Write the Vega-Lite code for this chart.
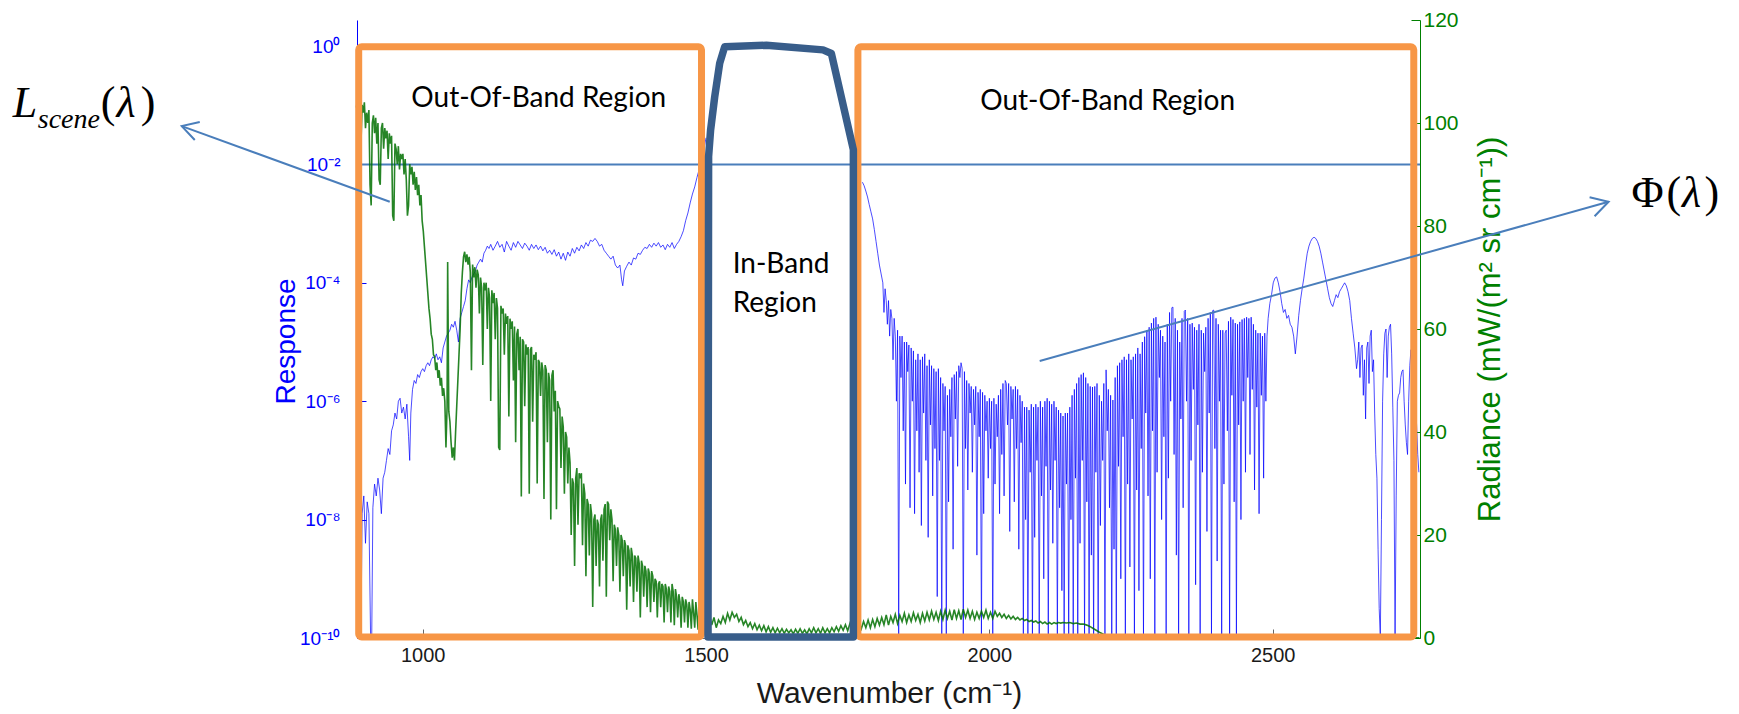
{
"$schema": "https://vega.github.io/schema/vega-lite/v6.json",
"width": 1063, "height": 618,
"autosize": {"type": "none"},
"padding": {"left": 357, "top": 20, "right": 319, "bottom": 76},
"background": "white",
"config": {"view": {"stroke": null}, "axis": {"labelFont": "Liberation Sans", "titleFont": "Liberation Sans", "grid": false}},
"datasets": {
"resp": [
{"wn":883,"logR":-8.3,"seg":"a"},{"wn":885,"logR":-7.8,"seg":"a"},{"wn":887,"logR":-8.2,"seg":"a"},{"wn":889,"logR":-7.7,"seg":"a"},{"wn":891,"logR":-10,"seg":"a"},{"wn":893,"logR":-7.9,"seg":"a"},{"wn":896,"logR":-7.6,"seg":"a"},{"wn":899,"logR":-8.4,"seg":"a"},{"wn":902,"logR":-7.7,"seg":"a"},{"wn":905,"logR":-7.9,"seg":"a"},{"wn":908,"logR":-10,"seg":"a"},{"wn":910,"logR":-10,"seg":"a"},{"wn":912,"logR":-7.8,"seg":"a"},{"wn":915,"logR":-7.4,"seg":"a"},{"wn":918,"logR":-7.6,"seg":"a"},{"wn":921,"logR":-7.3,"seg":"a"},{"wn":924,"logR":-7.5,"seg":"a"},{"wn":927,"logR":-7.9,"seg":"a"},{"wn":930,"logR":-7.3,"seg":"a"},{"wn":933,"logR":-7.2,"seg":"a"},{"wn":936,"logR":-7.0,"seg":"a"},{"wn":939,"logR":-6.8,"seg":"a"},{"wn":942,"logR":-6.9,"seg":"a"},{"wn":945,"logR":-6.5,"seg":"a"},{"wn":948,"logR":-6.4,"seg":"a"},{"wn":951,"logR":-6.2,"seg":"a"},{"wn":954,"logR":-6.3,"seg":"a"},{"wn":957,"logR":-6.0,"seg":"a"},{"wn":960,"logR":-5.95,"seg":"a"},{"wn":963,"logR":-6.2,"seg":"a"},{"wn":966,"logR":-6.1,"seg":"a"},{"wn":969,"logR":-6.3,"seg":"a"},{"wn":972,"logR":-6.05,"seg":"a"},{"wn":975,"logR":-6.6,"seg":"a"},{"wn":977,"logR":-7.0,"seg":"a"},{"wn":979,"logR":-6.2,"seg":"a"},{"wn":982,"logR":-5.8,"seg":"a"},{"wn":985,"logR":-5.65,"seg":"a"},{"wn":988,"logR":-5.7,"seg":"a"},{"wn":991,"logR":-5.55,"seg":"a"},{"wn":994,"logR":-5.6,"seg":"a"},{"wn":997,"logR":-5.5,"seg":"a"},{"wn":1000,"logR":-5.45,"seg":"a"},{"wn":1003,"logR":-5.5,"seg":"a"},{"wn":1006,"logR":-5.4,"seg":"a"},{"wn":1009,"logR":-5.35,"seg":"a"},{"wn":1012,"logR":-5.4,"seg":"a"},{"wn":1015,"logR":-5.3,"seg":"a"},{"wn":1018,"logR":-5.25,"seg":"a"},{"wn":1021,"logR":-5.28,"seg":"a"},{"wn":1024,"logR":-5.2,"seg":"a"},{"wn":1027,"logR":-5.3,"seg":"a"},{"wn":1030,"logR":-5.25,"seg":"a"},{"wn":1033,"logR":-5.35,"seg":"a"},{"wn":1036,"logR":-5.1,"seg":"a"},{"wn":1039,"logR":-5.0,"seg":"a"},{"wn":1042,"logR":-4.9,"seg":"a"},{"wn":1045,"logR":-4.85,"seg":"a"},{"wn":1048,"logR":-4.8,"seg":"a"},{"wn":1051,"logR":-4.7,"seg":"a"},{"wn":1054,"logR":-4.75,"seg":"a"},{"wn":1057,"logR":-4.65,"seg":"a"},{"wn":1060,"logR":-4.8,"seg":"a"},{"wn":1063,"logR":-5.0,"seg":"a"},{"wn":1066,"logR":-4.6,"seg":"a"},{"wn":1069,"logR":-4.5,"seg":"a"},{"wn":1072,"logR":-4.4,"seg":"a"},{"wn":1075,"logR":-4.3,"seg":"a"},{"wn":1078,"logR":-4.1,"seg":"a"},{"wn":1081,"logR":-3.95,"seg":"a"},{"wn":1084,"logR":-4.0,"seg":"a"},{"wn":1087,"logR":-3.9,"seg":"a"},{"wn":1090,"logR":-3.85,"seg":"a"},{"wn":1093,"logR":-3.8,"seg":"a"},{"wn":1096,"logR":-3.7,"seg":"a"},{"wn":1099,"logR":-3.65,"seg":"a"},{"wn":1102,"logR":-3.6,"seg":"a"},{"wn":1105,"logR":-3.65,"seg":"a"},{"wn":1108,"logR":-3.5,"seg":"a"},{"wn":1111,"logR":-3.45,"seg":"a"},{"wn":1114,"logR":-3.38,"seg":"a"},{"wn":1117,"logR":-3.42,"seg":"a"},{"wn":1120,"logR":-3.35,"seg":"a"},{"wn":1124,"logR":-3.45,"seg":"a"},{"wn":1128,"logR":-3.38,"seg":"a"},{"wn":1132,"logR":-3.3,"seg":"a"},{"wn":1136,"logR":-3.4,"seg":"a"},{"wn":1140,"logR":-3.35,"seg":"a"},{"wn":1144,"logR":-3.48,"seg":"a"},{"wn":1148,"logR":-3.3,"seg":"a"},{"wn":1152,"logR":-3.38,"seg":"a"},{"wn":1156,"logR":-3.45,"seg":"a"},{"wn":1160,"logR":-3.32,"seg":"a"},{"wn":1164,"logR":-3.4,"seg":"a"},{"wn":1168,"logR":-3.3,"seg":"a"},{"wn":1172,"logR":-3.36,"seg":"a"},{"wn":1176,"logR":-3.42,"seg":"a"},{"wn":1180,"logR":-3.33,"seg":"a"},{"wn":1184,"logR":-3.38,"seg":"a"},{"wn":1188,"logR":-3.45,"seg":"a"},{"wn":1192,"logR":-3.35,"seg":"a"},{"wn":1196,"logR":-3.42,"seg":"a"},{"wn":1200,"logR":-3.36,"seg":"a"},{"wn":1204,"logR":-3.44,"seg":"a"},{"wn":1208,"logR":-3.38,"seg":"a"},{"wn":1212,"logR":-3.46,"seg":"a"},{"wn":1216,"logR":-3.4,"seg":"a"},{"wn":1220,"logR":-3.5,"seg":"a"},{"wn":1224,"logR":-3.45,"seg":"a"},{"wn":1228,"logR":-3.52,"seg":"a"},{"wn":1232,"logR":-3.44,"seg":"a"},{"wn":1236,"logR":-3.55,"seg":"a"},{"wn":1240,"logR":-3.48,"seg":"a"},{"wn":1244,"logR":-3.6,"seg":"a"},{"wn":1248,"logR":-3.5,"seg":"a"},{"wn":1252,"logR":-3.62,"seg":"a"},{"wn":1256,"logR":-3.48,"seg":"a"},{"wn":1260,"logR":-3.55,"seg":"a"},{"wn":1264,"logR":-3.42,"seg":"a"},{"wn":1268,"logR":-3.5,"seg":"a"},{"wn":1272,"logR":-3.4,"seg":"a"},{"wn":1276,"logR":-3.46,"seg":"a"},{"wn":1280,"logR":-3.36,"seg":"a"},{"wn":1284,"logR":-3.42,"seg":"a"},{"wn":1288,"logR":-3.32,"seg":"a"},{"wn":1292,"logR":-3.38,"seg":"a"},{"wn":1296,"logR":-3.28,"seg":"a"},{"wn":1300,"logR":-3.3,"seg":"a"},{"wn":1304,"logR":-3.25,"seg":"a"},{"wn":1308,"logR":-3.3,"seg":"a"},{"wn":1312,"logR":-3.38,"seg":"a"},{"wn":1316,"logR":-3.35,"seg":"a"},{"wn":1320,"logR":-3.45,"seg":"a"},{"wn":1324,"logR":-3.5,"seg":"a"},{"wn":1328,"logR":-3.55,"seg":"a"},{"wn":1332,"logR":-3.6,"seg":"a"},{"wn":1336,"logR":-3.55,"seg":"a"},{"wn":1340,"logR":-3.7,"seg":"a"},{"wn":1344,"logR":-3.75,"seg":"a"},{"wn":1348,"logR":-3.7,"seg":"a"},{"wn":1351,"logR":-3.95,"seg":"a"},{"wn":1353,"logR":-4.05,"seg":"a"},{"wn":1356,"logR":-3.8,"seg":"a"},{"wn":1360,"logR":-3.72,"seg":"a"},{"wn":1364,"logR":-3.65,"seg":"a"},{"wn":1368,"logR":-3.7,"seg":"a"},{"wn":1372,"logR":-3.58,"seg":"a"},{"wn":1376,"logR":-3.6,"seg":"a"},{"wn":1380,"logR":-3.5,"seg":"a"},{"wn":1384,"logR":-3.52,"seg":"a"},{"wn":1388,"logR":-3.45,"seg":"a"},{"wn":1392,"logR":-3.4,"seg":"a"},{"wn":1396,"logR":-3.42,"seg":"a"},{"wn":1400,"logR":-3.35,"seg":"a"},{"wn":1404,"logR":-3.4,"seg":"a"},{"wn":1408,"logR":-3.33,"seg":"a"},{"wn":1412,"logR":-3.38,"seg":"a"},{"wn":1416,"logR":-3.32,"seg":"a"},{"wn":1420,"logR":-3.4,"seg":"a"},{"wn":1424,"logR":-3.36,"seg":"a"},{"wn":1428,"logR":-3.44,"seg":"a"},{"wn":1432,"logR":-3.35,"seg":"a"},{"wn":1436,"logR":-3.4,"seg":"a"},{"wn":1440,"logR":-3.32,"seg":"a"},{"wn":1444,"logR":-3.42,"seg":"a"},{"wn":1448,"logR":-3.35,"seg":"a"},{"wn":1452,"logR":-3.3,"seg":"a"},{"wn":1456,"logR":-3.22,"seg":"a"},{"wn":1460,"logR":-3.12,"seg":"a"},{"wn":1464,"logR":-2.95,"seg":"a"},{"wn":1468,"logR":-2.82,"seg":"a"},{"wn":1472,"logR":-2.65,"seg":"a"},{"wn":1476,"logR":-2.5,"seg":"a"},{"wn":1480,"logR":-2.38,"seg":"a"},{"wn":1484,"logR":-2.22,"seg":"a"},{"wn":1488,"logR":-2.08,"seg":"a"},{"wn":1492,"logR":-1.92,"seg":"a"},{"wn":1496,"logR":-1.75,"seg":"a"},{"wn":1500,"logR":-1.55,"seg":"a"},
{"wn":1776,"logR":-2.3,"seg":"b"},{"wn":1779,"logR":-2.36,"seg":"b"},{"wn":1782,"logR":-2.45,"seg":"b"},{"wn":1785,"logR":-2.55,"seg":"b"},{"wn":1788,"logR":-2.68,"seg":"b"},{"wn":1791,"logR":-2.8,"seg":"b"},{"wn":1794,"logR":-2.92,"seg":"b"},{"wn":1797,"logR":-3.1,"seg":"b"},{"wn":1800,"logR":-3.3,"seg":"b"},{"wn":1803,"logR":-3.5,"seg":"b"},{"wn":1806,"logR":-3.7,"seg":"b"},{"wn":1809,"logR":-3.85,"seg":"b"},{"wn":1812,"logR":-4.0,"seg":"b"},{"wn":1814,"logR":-4.5,"seg":"b"},{"wn":1816,"logR":-4.1,"seg":"b"},{"wn":1818,"logR":-4.3,"seg":"b"},{"wn":1820,"logR":-4.7,"seg":"b"},{"wn":1822,"logR":-4.3,"seg":"b"},{"wn":1824,"logR":-4.9,"seg":"b"},{"wn":1826,"logR":-4.45,"seg":"b"},{"wn":1828,"logR":-4.6,"seg":"b"},{"wn":1830,"logR":-5.3,"seg":"b"},{"wn":1832,"logR":-4.6,"seg":"b"},{"wn":1834,"logR":-4.9,"seg":"b"},{"wn":1836,"logR":-6.0,"seg":"b"},{"wn":1838,"logR":-4.8,"seg":"b"},{"wn":1840,"logR":-10,"seg":"b"},{"wn":1842,"logR":-4.9,"seg":"b"},{"wn":1844,"logR":-5.6,"seg":"b"},{"wn":1846,"logR":-4.9,"seg":"b"},{"wn":1848,"logR":-6.5,"seg":"b"},{"wn":1850,"logR":-5.0,"seg":"b"},{"wn":1852,"logR":-7.4,"seg":"b"},{"wn":1854,"logR":-5.0,"seg":"b"},{"wn":1856,"logR":-5.5,"seg":"b"},{"wn":1858,"logR":-5.05,"seg":"b"},{"wn":1860,"logR":-7.8,"seg":"b"},{"wn":1862,"logR":-5.1,"seg":"b"},{"wn":1864,"logR":-6.0,"seg":"b"},{"wn":1866,"logR":-5.15,"seg":"b"},{"wn":1868,"logR":-7.9,"seg":"b"},{"wn":1870,"logR":-5.3,"seg":"b"},{"wn":1872,"logR":-6.5,"seg":"b"},{"wn":1874,"logR":-5.2,"seg":"b"},{"wn":1876,"logR":-7.2,"seg":"b"},{"wn":1878,"logR":-5.3,"seg":"b"},{"wn":1880,"logR":-8.1,"seg":"b"},{"wn":1882,"logR":-5.25,"seg":"b"},{"wn":1884,"logR":-6.2,"seg":"b"},{"wn":1886,"logR":-5.2,"seg":"b"},{"wn":1888,"logR":-7.0,"seg":"b"},{"wn":1890,"logR":-5.4,"seg":"b"},{"wn":1892,"logR":-8.3,"seg":"b"},{"wn":1894,"logR":-5.3,"seg":"b"},{"wn":1896,"logR":-6.4,"seg":"b"},{"wn":1898,"logR":-5.4,"seg":"b"},{"wn":1900,"logR":-7.6,"seg":"b"},{"wn":1902,"logR":-5.45,"seg":"b"},{"wn":1904,"logR":-6.8,"seg":"b"},{"wn":1906,"logR":-5.5,"seg":"b"},{"wn":1908,"logR":-9.3,"seg":"b"},{"wn":1910,"logR":-5.45,"seg":"b"},{"wn":1912,"logR":-7.0,"seg":"b"},{"wn":1914,"logR":-5.6,"seg":"b"},{"wn":1916,"logR":-10,"seg":"b"},{"wn":1918,"logR":-5.7,"seg":"b"},{"wn":1920,"logR":-6.5,"seg":"b"},{"wn":1922,"logR":-5.75,"seg":"b"},{"wn":1924,"logR":-10,"seg":"b"},{"wn":1926,"logR":-5.9,"seg":"b"},{"wn":1928,"logR":-7.7,"seg":"b"},{"wn":1930,"logR":-5.8,"seg":"b"},{"wn":1932,"logR":-6.6,"seg":"b"},{"wn":1934,"logR":-5.6,"seg":"b"},{"wn":1936,"logR":-8.5,"seg":"b"},{"wn":1938,"logR":-5.55,"seg":"b"},{"wn":1940,"logR":-6.3,"seg":"b"},{"wn":1942,"logR":-5.5,"seg":"b"},{"wn":1944,"logR":-7.1,"seg":"b"},{"wn":1946,"logR":-5.4,"seg":"b"},{"wn":1948,"logR":-5.6,"seg":"b"},{"wn":1950,"logR":-5.35,"seg":"b"},{"wn":1952,"logR":-5.45,"seg":"b"},{"wn":1954,"logR":-10,"seg":"b"},{"wn":1956,"logR":-5.5,"seg":"b"},{"wn":1958,"logR":-6.8,"seg":"b"},{"wn":1960,"logR":-5.65,"seg":"b"},{"wn":1962,"logR":-7.5,"seg":"b"},{"wn":1964,"logR":-5.7,"seg":"b"},{"wn":1966,"logR":-6.2,"seg":"b"},{"wn":1968,"logR":-5.75,"seg":"b"},{"wn":1970,"logR":-7.2,"seg":"b"},{"wn":1972,"logR":-5.8,"seg":"b"},{"wn":1974,"logR":-6.4,"seg":"b"},{"wn":1976,"logR":-5.75,"seg":"b"},{"wn":1978,"logR":-8.6,"seg":"b"},{"wn":1980,"logR":-5.85,"seg":"b"},{"wn":1982,"logR":-6.6,"seg":"b"},{"wn":1984,"logR":-5.8,"seg":"b"},{"wn":1986,"logR":-10,"seg":"b"},{"wn":1988,"logR":-5.85,"seg":"b"},{"wn":1990,"logR":-7.9,"seg":"b"},{"wn":1992,"logR":-5.9,"seg":"b"},{"wn":1994,"logR":-6.5,"seg":"b"},{"wn":1996,"logR":-6.0,"seg":"b"},{"wn":1998,"logR":-7.3,"seg":"b"},{"wn":2000,"logR":-5.95,"seg":"b"},{"wn":2002,"logR":-6.8,"seg":"b"},{"wn":2004,"logR":-6.0,"seg":"b"},{"wn":2006,"logR":-10,"seg":"b"},{"wn":2008,"logR":-5.95,"seg":"b"},{"wn":2010,"logR":-7.4,"seg":"b"},{"wn":2012,"logR":-6.05,"seg":"b"},{"wn":2014,"logR":-6.6,"seg":"b"},{"wn":2016,"logR":-5.9,"seg":"b"},{"wn":2018,"logR":-7.9,"seg":"b"},{"wn":2020,"logR":-5.8,"seg":"b"},{"wn":2022,"logR":-6.9,"seg":"b"},{"wn":2024,"logR":-5.7,"seg":"b"},{"wn":2026,"logR":-7.6,"seg":"b"},{"wn":2028,"logR":-5.65,"seg":"b"},{"wn":2030,"logR":-5.7,"seg":"b"},{"wn":2032,"logR":-6.4,"seg":"b"},{"wn":2034,"logR":-5.7,"seg":"b"},{"wn":2036,"logR":-8.2,"seg":"b"},{"wn":2038,"logR":-5.75,"seg":"b"},{"wn":2040,"logR":-6.3,"seg":"b"},{"wn":2042,"logR":-5.8,"seg":"b"},{"wn":2044,"logR":-7.7,"seg":"b"},{"wn":2046,"logR":-5.75,"seg":"b"},{"wn":2048,"logR":-6.8,"seg":"b"},{"wn":2050,"logR":-5.8,"seg":"b"},{"wn":2052,"logR":-8.5,"seg":"b"},{"wn":2054,"logR":-5.9,"seg":"b"},{"wn":2056,"logR":-6.7,"seg":"b"},{"wn":2058,"logR":-6.0,"seg":"b"},{"wn":2060,"logR":-10,"seg":"b"},{"wn":2062,"logR":-6.1,"seg":"b"},{"wn":2064,"logR":-8.0,"seg":"b"},{"wn":2066,"logR":-6.1,"seg":"b"},{"wn":2068,"logR":-10,"seg":"b"},{"wn":2070,"logR":-6.15,"seg":"b"},{"wn":2072,"logR":-7.2,"seg":"b"},{"wn":2074,"logR":-6.05,"seg":"b"},{"wn":2076,"logR":-10,"seg":"b"},{"wn":2078,"logR":-6.1,"seg":"b"},{"wn":2080,"logR":-8.3,"seg":"b"},{"wn":2082,"logR":-6.05,"seg":"b"},{"wn":2084,"logR":-7.0,"seg":"b"},{"wn":2086,"logR":-6.1,"seg":"b"},{"wn":2088,"logR":-10,"seg":"b"},{"wn":2090,"logR":-6.0,"seg":"b"},{"wn":2092,"logR":-7.6,"seg":"b"},{"wn":2094,"logR":-6.1,"seg":"b"},{"wn":2096,"logR":-9.0,"seg":"b"},{"wn":2098,"logR":-6.0,"seg":"b"},{"wn":2100,"logR":-7.1,"seg":"b"},{"wn":2102,"logR":-5.95,"seg":"b"},{"wn":2104,"logR":-10,"seg":"b"},{"wn":2106,"logR":-6.0,"seg":"b"},{"wn":2108,"logR":-7.5,"seg":"b"},{"wn":2110,"logR":-6.05,"seg":"b"},{"wn":2112,"logR":-8.4,"seg":"b"},{"wn":2114,"logR":-6.0,"seg":"b"},{"wn":2116,"logR":-7.0,"seg":"b"},{"wn":2118,"logR":-6.1,"seg":"b"},{"wn":2120,"logR":-10,"seg":"b"},{"wn":2122,"logR":-6.15,"seg":"b"},{"wn":2124,"logR":-7.8,"seg":"b"},{"wn":2126,"logR":-6.2,"seg":"b"},{"wn":2128,"logR":-9.2,"seg":"b"},{"wn":2130,"logR":-6.25,"seg":"b"},{"wn":2132,"logR":-10,"seg":"b"},{"wn":2134,"logR":-6.2,"seg":"b"},{"wn":2136,"logR":-7.4,"seg":"b"},{"wn":2138,"logR":-6.2,"seg":"b"},{"wn":2140,"logR":-10,"seg":"b"},{"wn":2142,"logR":-6.1,"seg":"b"},{"wn":2144,"logR":-8.0,"seg":"b"},{"wn":2146,"logR":-5.9,"seg":"b"},{"wn":2148,"logR":-10,"seg":"b"},{"wn":2150,"logR":-5.8,"seg":"b"},{"wn":2152,"logR":-7.3,"seg":"b"},{"wn":2154,"logR":-5.7,"seg":"b"},{"wn":2156,"logR":-10,"seg":"b"},{"wn":2158,"logR":-5.6,"seg":"b"},{"wn":2160,"logR":-8.4,"seg":"b"},{"wn":2162,"logR":-5.55,"seg":"b"},{"wn":2164,"logR":-7.0,"seg":"b"},{"wn":2166,"logR":-5.52,"seg":"b"},{"wn":2168,"logR":-10,"seg":"b"},{"wn":2170,"logR":-5.6,"seg":"b"},{"wn":2172,"logR":-7.7,"seg":"b"},{"wn":2174,"logR":-5.7,"seg":"b"},{"wn":2176,"logR":-10,"seg":"b"},{"wn":2178,"logR":-5.75,"seg":"b"},{"wn":2180,"logR":-8.6,"seg":"b"},{"wn":2182,"logR":-5.76,"seg":"b"},{"wn":2184,"logR":-10,"seg":"b"},{"wn":2186,"logR":-5.75,"seg":"b"},{"wn":2188,"logR":-7.2,"seg":"b"},{"wn":2190,"logR":-5.7,"seg":"b"},{"wn":2192,"logR":-10,"seg":"b"},{"wn":2194,"logR":-5.9,"seg":"b"},{"wn":2196,"logR":-8.1,"seg":"b"},{"wn":2198,"logR":-6.0,"seg":"b"},{"wn":2200,"logR":-7.0,"seg":"b"},{"wn":2202,"logR":-5.7,"seg":"b"},{"wn":2204,"logR":-10,"seg":"b"},{"wn":2206,"logR":-5.47,"seg":"b"},{"wn":2208,"logR":-6.5,"seg":"b"},{"wn":2210,"logR":-5.8,"seg":"b"},{"wn":2212,"logR":-7.8,"seg":"b"},{"wn":2214,"logR":-5.9,"seg":"b"},{"wn":2216,"logR":-10,"seg":"b"},{"wn":2218,"logR":-5.98,"seg":"b"},{"wn":2220,"logR":-8.5,"seg":"b"},{"wn":2222,"logR":-5.6,"seg":"b"},{"wn":2224,"logR":-10,"seg":"b"},{"wn":2226,"logR":-5.4,"seg":"b"},{"wn":2228,"logR":-7.1,"seg":"b"},{"wn":2230,"logR":-5.35,"seg":"b"},{"wn":2232,"logR":-9.0,"seg":"b"},{"wn":2234,"logR":-5.3,"seg":"b"},{"wn":2236,"logR":-6.6,"seg":"b"},{"wn":2238,"logR":-5.25,"seg":"b"},{"wn":2240,"logR":-10,"seg":"b"},{"wn":2242,"logR":-5.3,"seg":"b"},{"wn":2244,"logR":-7.4,"seg":"b"},{"wn":2246,"logR":-5.2,"seg":"b"},{"wn":2248,"logR":-8.8,"seg":"b"},{"wn":2250,"logR":-5.3,"seg":"b"},{"wn":2252,"logR":-6.3,"seg":"b"},{"wn":2254,"logR":-5.25,"seg":"b"},{"wn":2256,"logR":-10,"seg":"b"},{"wn":2258,"logR":-5.2,"seg":"b"},{"wn":2260,"logR":-7.5,"seg":"b"},{"wn":2262,"logR":-5.1,"seg":"b"},{"wn":2264,"logR":-9.2,"seg":"b"},{"wn":2266,"logR":-5.2,"seg":"b"},{"wn":2268,"logR":-6.8,"seg":"b"},{"wn":2270,"logR":-5.0,"seg":"b"},{"wn":2272,"logR":-10,"seg":"b"},{"wn":2274,"logR":-4.91,"seg":"b"},{"wn":2276,"logR":-6.2,"seg":"b"},{"wn":2278,"logR":-4.8,"seg":"b"},{"wn":2280,"logR":-7.6,"seg":"b"},{"wn":2282,"logR":-4.75,"seg":"b"},{"wn":2284,"logR":-9.0,"seg":"b"},{"wn":2286,"logR":-4.68,"seg":"b"},{"wn":2288,"logR":-6.5,"seg":"b"},{"wn":2290,"logR":-4.6,"seg":"b"},{"wn":2292,"logR":-10,"seg":"b"},{"wn":2294,"logR":-4.58,"seg":"b"},{"wn":2296,"logR":-7.2,"seg":"b"},{"wn":2298,"logR":-4.7,"seg":"b"},{"wn":2300,"logR":-5.6,"seg":"b"},{"wn":2302,"logR":-4.8,"seg":"b"},{"wn":2304,"logR":-8.0,"seg":"b"},{"wn":2306,"logR":-4.9,"seg":"b"},{"wn":2308,"logR":-6.6,"seg":"b"},{"wn":2310,"logR":-5.0,"seg":"b"},{"wn":2312,"logR":-10,"seg":"b"},{"wn":2314,"logR":-4.7,"seg":"b"},{"wn":2316,"logR":-7.3,"seg":"b"},{"wn":2318,"logR":-4.5,"seg":"b"},{"wn":2320,"logR":-6.0,"seg":"b"},{"wn":2322,"logR":-4.42,"seg":"b"},{"wn":2324,"logR":-4.41,"seg":"b"},{"wn":2326,"logR":-6.9,"seg":"b"},{"wn":2328,"logR":-4.6,"seg":"b"},{"wn":2330,"logR":-8.6,"seg":"b"},{"wn":2332,"logR":-4.8,"seg":"b"},{"wn":2334,"logR":-10,"seg":"b"},{"wn":2336,"logR":-5.0,"seg":"b"},{"wn":2338,"logR":-6.3,"seg":"b"},{"wn":2340,"logR":-4.6,"seg":"b"},{"wn":2342,"logR":-7.8,"seg":"b"},{"wn":2344,"logR":-4.48,"seg":"b"},{"wn":2346,"logR":-4.46,"seg":"b"},{"wn":2348,"logR":-6.0,"seg":"b"},{"wn":2350,"logR":-4.6,"seg":"b"},{"wn":2352,"logR":-10,"seg":"b"},{"wn":2354,"logR":-4.7,"seg":"b"},{"wn":2356,"logR":-7.0,"seg":"b"},{"wn":2358,"logR":-4.68,"seg":"b"},{"wn":2360,"logR":-5.8,"seg":"b"},{"wn":2362,"logR":-4.75,"seg":"b"},{"wn":2364,"logR":-9.1,"seg":"b"},{"wn":2366,"logR":-4.8,"seg":"b"},{"wn":2368,"logR":-6.4,"seg":"b"},{"wn":2370,"logR":-4.7,"seg":"b"},{"wn":2372,"logR":-10,"seg":"b"},{"wn":2374,"logR":-4.8,"seg":"b"},{"wn":2376,"logR":-7.2,"seg":"b"},{"wn":2378,"logR":-4.85,"seg":"b"},{"wn":2380,"logR":-5.5,"seg":"b"},{"wn":2382,"logR":-4.75,"seg":"b"},{"wn":2384,"logR":-8.2,"seg":"b"},{"wn":2386,"logR":-4.6,"seg":"b"},{"wn":2388,"logR":-6.2,"seg":"b"},{"wn":2390,"logR":-4.5,"seg":"b"},{"wn":2392,"logR":-10,"seg":"b"},{"wn":2394,"logR":-4.47,"seg":"b"},{"wn":2396,"logR":-4.46,"seg":"b"},{"wn":2398,"logR":-6.8,"seg":"b"},{"wn":2400,"logR":-4.6,"seg":"b"},{"wn":2402,"logR":-8.7,"seg":"b"},{"wn":2404,"logR":-4.7,"seg":"b"},{"wn":2406,"logR":-6.0,"seg":"b"},{"wn":2408,"logR":-4.8,"seg":"b"},{"wn":2410,"logR":-10,"seg":"b"},{"wn":2412,"logR":-4.8,"seg":"b"},{"wn":2414,"logR":-7.4,"seg":"b"},{"wn":2416,"logR":-4.85,"seg":"b"},{"wn":2418,"logR":-4.8,"seg":"b"},{"wn":2420,"logR":-6.5,"seg":"b"},{"wn":2422,"logR":-4.65,"seg":"b"},{"wn":2424,"logR":-10,"seg":"b"},{"wn":2426,"logR":-4.58,"seg":"b"},{"wn":2428,"logR":-5.9,"seg":"b"},{"wn":2430,"logR":-4.62,"seg":"b"},{"wn":2432,"logR":-7.7,"seg":"b"},{"wn":2434,"logR":-4.68,"seg":"b"},{"wn":2436,"logR":-10,"seg":"b"},{"wn":2438,"logR":-4.7,"seg":"b"},{"wn":2440,"logR":-6.4,"seg":"b"},{"wn":2442,"logR":-4.66,"seg":"b"},{"wn":2444,"logR":-8.0,"seg":"b"},{"wn":2446,"logR":-4.62,"seg":"b"},{"wn":2448,"logR":-6.0,"seg":"b"},{"wn":2450,"logR":-4.6,"seg":"b"},{"wn":2452,"logR":-7.2,"seg":"b"},{"wn":2454,"logR":-4.58,"seg":"b"},{"wn":2456,"logR":-5.6,"seg":"b"},{"wn":2458,"logR":-4.6,"seg":"b"},{"wn":2460,"logR":-6.9,"seg":"b"},{"wn":2462,"logR":-4.58,"seg":"b"},{"wn":2464,"logR":-5.8,"seg":"b"},{"wn":2466,"logR":-4.7,"seg":"b"},{"wn":2468,"logR":-7.5,"seg":"b"},{"wn":2470,"logR":-4.8,"seg":"b"},{"wn":2472,"logR":-6.1,"seg":"b"},{"wn":2474,"logR":-4.85,"seg":"b"},{"wn":2476,"logR":-7.9,"seg":"b"},{"wn":2478,"logR":-4.85,"seg":"b"},{"wn":2480,"logR":-5.9,"seg":"b"},{"wn":2482,"logR":-4.9,"seg":"b"},{"wn":2484,"logR":-7.3,"seg":"b"},{"wn":2486,"logR":-4.85,"seg":"b"},{"wn":2488,"logR":-6.0,"seg":"b"},{"wn":2490,"logR":-4.9,"seg":"b"},{"wn":2492,"logR":-4.6,"seg":"b"},{"wn":2495,"logR":-4.35,"seg":"b"},{"wn":2498,"logR":-4.2,"seg":"b"},{"wn":2501,"logR":-4.0,"seg":"b"},{"wn":2504,"logR":-3.92,"seg":"b"},{"wn":2507,"logR":-3.9,"seg":"b"},{"wn":2510,"logR":-4.0,"seg":"b"},{"wn":2513,"logR":-4.15,"seg":"b"},{"wn":2516,"logR":-4.35,"seg":"b"},{"wn":2519,"logR":-4.5,"seg":"b"},{"wn":2522,"logR":-4.45,"seg":"b"},{"wn":2525,"logR":-4.6,"seg":"b"},{"wn":2528,"logR":-4.55,"seg":"b"},{"wn":2531,"logR":-4.7,"seg":"b"},{"wn":2534,"logR":-4.75,"seg":"b"},{"wn":2537,"logR":-4.9,"seg":"b"},{"wn":2540,"logR":-5.2,"seg":"b"},{"wn":2543,"logR":-4.9,"seg":"b"},{"wn":2546,"logR":-4.55,"seg":"b"},{"wn":2549,"logR":-4.3,"seg":"b"},{"wn":2552,"logR":-4.1,"seg":"b"},{"wn":2555,"logR":-3.92,"seg":"b"},{"wn":2558,"logR":-3.7,"seg":"b"},{"wn":2561,"logR":-3.5,"seg":"b"},{"wn":2564,"logR":-3.38,"seg":"b"},{"wn":2567,"logR":-3.3,"seg":"b"},{"wn":2570,"logR":-3.25,"seg":"b"},{"wn":2573,"logR":-3.23,"seg":"b"},{"wn":2576,"logR":-3.25,"seg":"b"},{"wn":2579,"logR":-3.3,"seg":"b"},{"wn":2582,"logR":-3.38,"seg":"b"},{"wn":2585,"logR":-3.5,"seg":"b"},{"wn":2588,"logR":-3.65,"seg":"b"},{"wn":2591,"logR":-3.8,"seg":"b"},{"wn":2594,"logR":-3.95,"seg":"b"},{"wn":2597,"logR":-4.1,"seg":"b"},{"wn":2600,"logR":-4.25,"seg":"b"},{"wn":2603,"logR":-4.35,"seg":"b"},{"wn":2606,"logR":-4.4,"seg":"b"},{"wn":2609,"logR":-4.3,"seg":"b"},{"wn":2612,"logR":-4.2,"seg":"b"},{"wn":2615,"logR":-4.25,"seg":"b"},{"wn":2618,"logR":-4.15,"seg":"b"},{"wn":2621,"logR":-4.1,"seg":"b"},{"wn":2624,"logR":-4.05,"seg":"b"},{"wn":2627,"logR":-4.0,"seg":"b"},{"wn":2630,"logR":-4.05,"seg":"b"},{"wn":2633,"logR":-4.15,"seg":"b"},{"wn":2636,"logR":-4.3,"seg":"b"},{"wn":2639,"logR":-4.6,"seg":"b"},{"wn":2642,"logR":-4.85,"seg":"b"},{"wn":2645,"logR":-5.1,"seg":"b"},{"wn":2648,"logR":-5.45,"seg":"b"},{"wn":2650,"logR":-5.3,"seg":"b"},{"wn":2652,"logR":-5.0,"seg":"b"},{"wn":2654,"logR":-5.6,"seg":"b"},{"wn":2656,"logR":-5.1,"seg":"b"},{"wn":2658,"logR":-5.05,"seg":"b"},{"wn":2660,"logR":-5.9,"seg":"b"},{"wn":2662,"logR":-5.3,"seg":"b"},{"wn":2664,"logR":-6.3,"seg":"b"},{"wn":2666,"logR":-5.1,"seg":"b"},{"wn":2668,"logR":-5.0,"seg":"b"},{"wn":2670,"logR":-5.7,"seg":"b"},{"wn":2672,"logR":-4.9,"seg":"b"},{"wn":2674,"logR":-4.8,"seg":"b"},{"wn":2676,"logR":-5.5,"seg":"b"},{"wn":2678,"logR":-5.3,"seg":"b"},{"wn":2680,"logR":-6.2,"seg":"b"},{"wn":2682,"logR":-6.9,"seg":"b"},{"wn":2684,"logR":-7.3,"seg":"b"},{"wn":2686,"logR":-8.5,"seg":"b"},{"wn":2688,"logR":-9.5,"seg":"b"},{"wn":2690,"logR":-10,"seg":"b"},{"wn":2692,"logR":-8.0,"seg":"b"},{"wn":2694,"logR":-6.0,"seg":"b"},{"wn":2696,"logR":-5.2,"seg":"b"},{"wn":2698,"logR":-4.85,"seg":"b"},{"wn":2700,"logR":-4.78,"seg":"b"},{"wn":2702,"logR":-5.6,"seg":"b"},{"wn":2704,"logR":-4.9,"seg":"b"},{"wn":2706,"logR":-4.75,"seg":"b"},{"wn":2708,"logR":-4.7,"seg":"b"},{"wn":2710,"logR":-5.2,"seg":"b"},{"wn":2712,"logR":-6.1,"seg":"b"},{"wn":2714,"logR":-7.0,"seg":"b"},{"wn":2716,"logR":-10,"seg":"b"},{"wn":2718,"logR":-7.6,"seg":"b"},{"wn":2720,"logR":-6.0,"seg":"b"},{"wn":2722,"logR":-5.9,"seg":"b"},{"wn":2724,"logR":-5.86,"seg":"b"},{"wn":2726,"logR":-5.6,"seg":"b"},{"wn":2728,"logR":-5.5,"seg":"b"},{"wn":2730,"logR":-5.47,"seg":"b"},{"wn":2732,"logR":-6.0,"seg":"b"},{"wn":2734,"logR":-6.4,"seg":"b"},{"wn":2736,"logR":-6.7,"seg":"b"},{"wn":2738,"logR":-6.9,"seg":"b"},{"wn":2740,"logR":-6.0,"seg":"b"},{"wn":2742,"logR":-5.4,"seg":"b"},{"wn":2744,"logR":-5.13,"seg":"b"},{"wn":2746,"logR":-5.5,"seg":"b"},{"wn":2748,"logR":-6.2,"seg":"b"},{"wn":2750,"logR":-6.6,"seg":"b"},{"wn":2752,"logR":-6.0,"seg":"b"},{"wn":2754,"logR":-6.4,"seg":"b"},{"wn":2756,"logR":-6.9,"seg":"b"},{"wn":2758,"logR":-7.2,"seg":"b"}
],
"rad": [
{"wn":883,"rad":103},{"wn":885,"rad":105},{"wn":887,"rad":101},{"wn":889,"rad":104},{"wn":891,"rad":96},{"wn":893,"rad":103.5},{"wn":895,"rad":102},{"wn":897,"rad":104},{"wn":899,"rad":99},{"wn":901,"rad":102},{"wn":903,"rad":100},{"wn":905,"rad":102.5},{"wn":907,"rad":88},{"wn":909,"rad":84},{"wn":911,"rad":100},{"wn":913,"rad":101.5},{"wn":915,"rad":98},{"wn":917,"rad":101},{"wn":919,"rad":96},{"wn":921,"rad":100},{"wn":923,"rad":89},{"wn":925,"rad":88},{"wn":927,"rad":99},{"wn":929,"rad":100},{"wn":931,"rad":95},{"wn":933,"rad":99},{"wn":935,"rad":97},{"wn":937,"rad":98.5},{"wn":939,"rad":93},{"wn":941,"rad":98},{"wn":943,"rad":96},{"wn":945,"rad":97.5},{"wn":947,"rad":82},{"wn":949,"rad":81},{"wn":951,"rad":96},{"wn":953,"rad":95},{"wn":955,"rad":92},{"wn":957,"rad":95.5},{"wn":959,"rad":91},{"wn":961,"rad":94},{"wn":963,"rad":93},{"wn":965,"rad":94},{"wn":967,"rad":90},{"wn":969,"rad":93},{"wn":971,"rad":89},{"wn":973,"rad":82},{"wn":975,"rad":84},{"wn":977,"rad":92},{"wn":979,"rad":90},{"wn":981,"rad":91.5},{"wn":983,"rad":88},{"wn":985,"rad":90.5},{"wn":987,"rad":87},{"wn":989,"rad":89.5},{"wn":991,"rad":86},{"wn":993,"rad":88},{"wn":995,"rad":84},{"wn":997,"rad":86},{"wn":999,"rad":81},{"wn":1001,"rad":79},{"wn":1003,"rad":76},{"wn":1005,"rad":73},{"wn":1007,"rad":70},{"wn":1009,"rad":67},{"wn":1011,"rad":64},{"wn":1013,"rad":62},{"wn":1015,"rad":59},{"wn":1017,"rad":58},{"wn":1019,"rad":55},{"wn":1021,"rad":54.6},{"wn":1023,"rad":52},{"wn":1025,"rad":53.5},{"wn":1027,"rad":50.5},{"wn":1029,"rad":52},{"wn":1031,"rad":49},{"wn":1033,"rad":50.5},{"wn":1035,"rad":47},{"wn":1037,"rad":48.5},{"wn":1039,"rad":46},{"wn":1041,"rad":37},{"wn":1043,"rad":45},{"wn":1044,"rad":73},{"wn":1046,"rad":44},{"wn":1048,"rad":42},{"wn":1050,"rad":38},{"wn":1052,"rad":35},{"wn":1054,"rad":37},{"wn":1056,"rad":34.5},{"wn":1058,"rad":40},{"wn":1060,"rad":45},{"wn":1062,"rad":50},{"wn":1064,"rad":55},{"wn":1066,"rad":60},{"wn":1068,"rad":67},{"wn":1070,"rad":71},{"wn":1072,"rad":74},{"wn":1074,"rad":75},{"wn":1076,"rad":73},{"wn":1078,"rad":74.5},{"wn":1080,"rad":72.5},{"wn":1082,"rad":74},{"wn":1084,"rad":71},{"wn":1086,"rad":52},{"wn":1088,"rad":72.5},{"wn":1090,"rad":70},{"wn":1092,"rad":72},{"wn":1094,"rad":68},{"wn":1096,"rad":71.5},{"wn":1098,"rad":70.5},{"wn":1100,"rad":63},{"wn":1102,"rad":70},{"wn":1104,"rad":68},{"wn":1106,"rad":53},{"wn":1108,"rad":69},{"wn":1110,"rad":67.5},{"wn":1112,"rad":69},{"wn":1114,"rad":60},{"wn":1116,"rad":68},{"wn":1118,"rad":66},{"wn":1120,"rad":46},{"wn":1122,"rad":67.5},{"wn":1124,"rad":65},{"wn":1126,"rad":67},{"wn":1128,"rad":58},{"wn":1130,"rad":66},{"wn":1132,"rad":64},{"wn":1134,"rad":37},{"wn":1136,"rad":36.5},{"wn":1138,"rad":64.5},{"wn":1140,"rad":63},{"wn":1142,"rad":64},{"wn":1144,"rad":55},{"wn":1146,"rad":63},{"wn":1148,"rad":61},{"wn":1150,"rad":62.5},{"wn":1152,"rad":43},{"wn":1154,"rad":62},{"wn":1156,"rad":60},{"wn":1158,"rad":61.5},{"wn":1160,"rad":50},{"wn":1162,"rad":60.5},{"wn":1164,"rad":38},{"wn":1166,"rad":59},{"wn":1168,"rad":60},{"wn":1170,"rad":52},{"wn":1172,"rad":58.5},{"wn":1174,"rad":27.5},{"wn":1176,"rad":58},{"wn":1178,"rad":57.5},{"wn":1180,"rad":45},{"wn":1182,"rad":57},{"wn":1184,"rad":55},{"wn":1186,"rad":56.5},{"wn":1188,"rad":28},{"wn":1190,"rad":56},{"wn":1192,"rad":56.5},{"wn":1194,"rad":42},{"wn":1196,"rad":55},{"wn":1198,"rad":54},{"wn":1200,"rad":55.5},{"wn":1202,"rad":30},{"wn":1204,"rad":54},{"wn":1206,"rad":53.5},{"wn":1208,"rad":47},{"wn":1210,"rad":53.5},{"wn":1212,"rad":52},{"wn":1214,"rad":27},{"wn":1216,"rad":53},{"wn":1218,"rad":52},{"wn":1220,"rad":38},{"wn":1222,"rad":51.5},{"wn":1224,"rad":50},{"wn":1226,"rad":23},{"wn":1228,"rad":51},{"wn":1230,"rad":52},{"wn":1232,"rad":44},{"wn":1234,"rad":48},{"wn":1236,"rad":25},{"wn":1238,"rad":46},{"wn":1240,"rad":45},{"wn":1242,"rad":44.5},{"wn":1244,"rad":33},{"wn":1246,"rad":43},{"wn":1248,"rad":41},{"wn":1250,"rad":28},{"wn":1252,"rad":40},{"wn":1254,"rad":39},{"wn":1256,"rad":30},{"wn":1258,"rad":37},{"wn":1260,"rad":34},{"wn":1262,"rad":20},{"wn":1264,"rad":31},{"wn":1266,"rad":30},{"wn":1268,"rad":14},{"wn":1270,"rad":31},{"wn":1272,"rad":33},{"wn":1274,"rad":22},{"wn":1276,"rad":32},{"wn":1278,"rad":31},{"wn":1280,"rad":32},{"wn":1282,"rad":18},{"wn":1284,"rad":30},{"wn":1286,"rad":28},{"wn":1288,"rad":12},{"wn":1290,"rad":27},{"wn":1292,"rad":26},{"wn":1294,"rad":16},{"wn":1296,"rad":26},{"wn":1298,"rad":24},{"wn":1300,"rad":6},{"wn":1302,"rad":23},{"wn":1304,"rad":24},{"wn":1306,"rad":14},{"wn":1308,"rad":23},{"wn":1310,"rad":22},{"wn":1312,"rad":10},{"wn":1314,"rad":23},{"wn":1316,"rad":24},{"wn":1318,"rad":15},{"wn":1320,"rad":25},{"wn":1322,"rad":26},{"wn":1324,"rad":8},{"wn":1326,"rad":26.5},{"wn":1328,"rad":26},{"wn":1330,"rad":19},{"wn":1332,"rad":25},{"wn":1334,"rad":23},{"wn":1336,"rad":11},{"wn":1338,"rad":22},{"wn":1340,"rad":21},{"wn":1342,"rad":14},{"wn":1344,"rad":21.5},{"wn":1346,"rad":20},{"wn":1348,"rad":9},{"wn":1350,"rad":20},{"wn":1352,"rad":19},{"wn":1354,"rad":12},{"wn":1356,"rad":19},{"wn":1358,"rad":18},{"wn":1360,"rad":5.5},{"wn":1362,"rad":18},{"wn":1364,"rad":17},{"wn":1366,"rad":10},{"wn":1368,"rad":17.5},{"wn":1370,"rad":16},{"wn":1372,"rad":7},{"wn":1374,"rad":16},{"wn":1376,"rad":15.5},{"wn":1378,"rad":9},{"wn":1380,"rad":16},{"wn":1382,"rad":14.5},{"wn":1384,"rad":4},{"wn":1386,"rad":15},{"wn":1388,"rad":14},{"wn":1390,"rad":8},{"wn":1392,"rad":14},{"wn":1394,"rad":13},{"wn":1396,"rad":6},{"wn":1398,"rad":13.5},{"wn":1400,"rad":12.5},{"wn":1402,"rad":5},{"wn":1404,"rad":13},{"wn":1406,"rad":12},{"wn":1408,"rad":7},{"wn":1410,"rad":11.5},{"wn":1412,"rad":11},{"wn":1414,"rad":4},{"wn":1416,"rad":10.5},{"wn":1418,"rad":11},{"wn":1420,"rad":6},{"wn":1422,"rad":10.5},{"wn":1424,"rad":10},{"wn":1426,"rad":3},{"wn":1428,"rad":10.5},{"wn":1430,"rad":9.5},{"wn":1432,"rad":5},{"wn":1434,"rad":10},{"wn":1436,"rad":9},{"wn":1438,"rad":3},{"wn":1440,"rad":10.5},{"wn":1442,"rad":9},{"wn":1444,"rad":2.5},{"wn":1446,"rad":9.5},{"wn":1448,"rad":8},{"wn":1450,"rad":4},{"wn":1452,"rad":8.5},{"wn":1454,"rad":7},{"wn":1456,"rad":2},{"wn":1458,"rad":8},{"wn":1460,"rad":7},{"wn":1462,"rad":3},{"wn":1464,"rad":7.5},{"wn":1466,"rad":6.5},{"wn":1468,"rad":2},{"wn":1470,"rad":7},{"wn":1472,"rad":5.5},{"wn":1474,"rad":1.8},{"wn":1476,"rad":7.5},{"wn":1478,"rad":5},{"wn":1480,"rad":2},{"wn":1482,"rad":7},{"wn":1484,"rad":4.5},{"wn":1486,"rad":1.6},{"wn":1488,"rad":6.5},{"wn":1490,"rad":4},{"wn":1492,"rad":2},{"wn":1494,"rad":6},{"wn":1496,"rad":3},{"wn":1498,"rad":5.5},
{"wn":1502,"rad":3},{"wn":1506,"rad":4.5},{"wn":1510,"rad":2.5},{"wn":1514,"rad":4},{"wn":1518,"rad":2},{"wn":1522,"rad":3.5},{"wn":1526,"rad":2.8},{"wn":1530,"rad":4.2},{"wn":1534,"rad":3},{"wn":1538,"rad":4.8},{"wn":1542,"rad":3.5},{"wn":1546,"rad":5},{"wn":1550,"rad":4},{"wn":1554,"rad":4.6},{"wn":1558,"rad":3.2},{"wn":1562,"rad":4},{"wn":1566,"rad":2.6},{"wn":1570,"rad":3.4},{"wn":1574,"rad":2.2},{"wn":1578,"rad":3},{"wn":1582,"rad":1.8},{"wn":1586,"rad":2.8},{"wn":1590,"rad":1.6},{"wn":1594,"rad":2.5},{"wn":1598,"rad":1.4},{"wn":1602,"rad":2.4},{"wn":1606,"rad":1.2},{"wn":1610,"rad":2.2},{"wn":1614,"rad":1.1},{"wn":1618,"rad":2},{"wn":1622,"rad":1},{"wn":1626,"rad":1.9},{"wn":1630,"rad":1},{"wn":1634,"rad":1.8},{"wn":1638,"rad":0.9},{"wn":1642,"rad":1.7},{"wn":1646,"rad":1},{"wn":1650,"rad":1.6},{"wn":1654,"rad":0.8},{"wn":1658,"rad":1.7},{"wn":1662,"rad":0.9},{"wn":1666,"rad":1.8},{"wn":1670,"rad":0.9},{"wn":1674,"rad":1.6},{"wn":1678,"rad":0.8},{"wn":1682,"rad":1.8},{"wn":1686,"rad":1},{"wn":1690,"rad":2},{"wn":1694,"rad":1},{"wn":1698,"rad":1.8},{"wn":1702,"rad":0.9},{"wn":1706,"rad":2},{"wn":1710,"rad":1},{"wn":1714,"rad":1.8},{"wn":1718,"rad":1},{"wn":1722,"rad":2},{"wn":1726,"rad":1.2},{"wn":1730,"rad":2.2},{"wn":1734,"rad":1.3},{"wn":1738,"rad":2.4},{"wn":1742,"rad":1.5},{"wn":1746,"rad":2.6},{"wn":1750,"rad":1.4},{"wn":1754,"rad":2.8},{"wn":1758,"rad":1.6},{"wn":1762,"rad":2.5},{"wn":1766,"rad":1.4},{"wn":1770,"rad":3},{"wn":1774,"rad":1.8},{"wn":1778,"rad":3.2},{"wn":1782,"rad":2},{"wn":1786,"rad":3.5},{"wn":1790,"rad":2},{"wn":1794,"rad":3.6},{"wn":1798,"rad":2.2},{"wn":1802,"rad":3.8},{"wn":1806,"rad":2.5},{"wn":1810,"rad":4},{"wn":1814,"rad":2.6},{"wn":1818,"rad":4.5},{"wn":1822,"rad":2.5},{"wn":1826,"rad":4.2},{"wn":1830,"rad":3},{"wn":1834,"rad":4.6},{"wn":1838,"rad":2.8},{"wn":1842,"rad":4.4},{"wn":1846,"rad":3.2},{"wn":1850,"rad":4.8},{"wn":1854,"rad":3},{"wn":1858,"rad":4.5},{"wn":1862,"rad":3.2},{"wn":1866,"rad":4.9},{"wn":1870,"rad":3.4},{"wn":1874,"rad":4.6},{"wn":1878,"rad":3},{"wn":1882,"rad":4.8},{"wn":1886,"rad":3.3},{"wn":1890,"rad":5},{"wn":1894,"rad":3.5},{"wn":1898,"rad":5.2},{"wn":1902,"rad":3.6},{"wn":1906,"rad":5},{"wn":1910,"rad":3.4},{"wn":1914,"rad":5.2},{"wn":1918,"rad":3.6},{"wn":1922,"rad":5.4},{"wn":1926,"rad":3.8},{"wn":1930,"rad":5.2},{"wn":1934,"rad":3.5},{"wn":1938,"rad":5.5},{"wn":1942,"rad":3.8},{"wn":1946,"rad":5.3},{"wn":1950,"rad":3.6},{"wn":1954,"rad":5.6},{"wn":1958,"rad":4},{"wn":1962,"rad":5.4},{"wn":1966,"rad":3.8},{"wn":1970,"rad":5.2},{"wn":1974,"rad":3.6},{"wn":1978,"rad":5},{"wn":1982,"rad":3.8},{"wn":1986,"rad":5.2},{"wn":1990,"rad":4},{"wn":1994,"rad":5.4},{"wn":1998,"rad":3.8},{"wn":2002,"rad":5},{"wn":2006,"rad":3.8},{"wn":2010,"rad":5.2},{"wn":2014,"rad":4.2},{"wn":2018,"rad":4.8},{"wn":2022,"rad":4},{"wn":2026,"rad":4.6},{"wn":2030,"rad":3.8},{"wn":2034,"rad":4.4},{"wn":2038,"rad":3.7},{"wn":2042,"rad":4.2},{"wn":2046,"rad":3.6},{"wn":2050,"rad":4},{"wn":2054,"rad":3.5},{"wn":2058,"rad":3.8},{"wn":2062,"rad":3.4},{"wn":2066,"rad":3.6},{"wn":2070,"rad":3.2},{"wn":2074,"rad":3.4},{"wn":2078,"rad":3.1},{"wn":2082,"rad":3.3},{"wn":2086,"rad":2.9},{"wn":2090,"rad":3.2},{"wn":2094,"rad":2.8},{"wn":2098,"rad":3.1},{"wn":2102,"rad":2.7},{"wn":2106,"rad":3.0},{"wn":2110,"rad":2.7},{"wn":2114,"rad":3.0},{"wn":2118,"rad":2.8},{"wn":2122,"rad":3.0},{"wn":2126,"rad":2.9},{"wn":2130,"rad":3.0},{"wn":2136,"rad":2.9},{"wn":2142,"rad":3.0},{"wn":2148,"rad":2.8},{"wn":2154,"rad":2.9},{"wn":2160,"rad":2.7},{"wn":2166,"rad":2.7},{"wn":2172,"rad":2.5},{"wn":2178,"rad":2.2},{"wn":2184,"rad":1.8},{"wn":2190,"rad":1.4},{"wn":2196,"rad":1.0},{"wn":2202,"rad":0.7},{"wn":2208,"rad":0.45},{"wn":2214,"rad":0.3},{"wn":2222,"rad":0.15},{"wn":2235,"rad":0.08},{"wn":2300,"rad":0.05},{"wn":2400,"rad":0.1},{"wn":2450,"rad":0.3},{"wn":2500,"rad":0.45},{"wn":2550,"rad":0.3},{"wn":2600,"rad":0.15},{"wn":2700,"rad":0.05},{"wn":2759,"rad":0.05}
],
"boxes": [{"x1":887,"x2":1492,"y1":0.2,"y2":114.8},{"x1":1768,"x2":2749,"y1":0.2,"y2":114.8}],
"band": [
{"o":1,"x":1503.5,"y":0.2},{"o":2,"x":1504.5,"y":93.5},{"o":3,"x":1508,"y":98.6},{"o":4,"x":1515.3,"y":105.1},{"o":5,"x":1524.1,"y":111.6},{"o":6,"x":1532.9,"y":114.8},{"o":7,"x":1606.5,"y":115.1},{"o":8,"x":1706.4,"y":114.2},{"o":9,"x":1721.2,"y":113.5},{"o":10,"x":1760,"y":94.8},{"o":11,"x":1760,"y":0.2},{"o":12,"x":1503.5,"y":0.2}
],
"arrows": [
{"seg":"s1","o":1,"x":941.8,"y":84.7},{"seg":"s1","o":2,"x":574.7,"y":99.4},
{"seg":"h1","o":1,"x":606.5,"y":100.2},{"seg":"h1","o":2,"x":574.7,"y":99.4},{"seg":"h1","o":3,"x":597.7,"y":96.7},
{"seg":"s2","o":1,"x":2088.8,"y":53.8},{"seg":"s2","o":2,"x":3092.8,"y":84.7},
{"seg":"h2","o":1,"x":3059.3,"y":85.6},{"seg":"h2","o":2,"x":3092.8,"y":84.7},{"seg":"h2","o":3,"x":3068.1,"y":81.9}
],
"mathUpright": [{"x":431.8,"y":101.2,"t":"("},{"x":502.4,"y":101.2,"t":")"},{"x":3133.4,"y":83.7,"t":"Φ"},{"x":3195.2,"y":83.7,"t":"("},{"x":3262.3,"y":83.7,"t":")"}],
"mathItalic": [{"x":276.5,"y":101.2,"t":"L"},{"x":459.5,"y":101.2,"t":"λ"},{"x":3222.5,"y":83.7,"t":"λ"}],
"mathSub": [{"x":320.6,"y":99.0,"t":"scene"}],
"regionOut": [{"x":1204.7,"y":103.1,"t":"Out-Of-Band Region"},{"x":2208.8,"y":102.5,"t":"Out-Of-Band Region"}],
"regionIn": [{"x":1547,"y":70.9,"t":"In-Band"},{"x":1547,"y":63.3,"t":"Region"}],
"hline": [{"level":-2}]
},
"layer": [
{"data": {"name": "resp"},
 "mark": {"type": "line", "color": "#0000ff", "strokeWidth": 1, "opacity": 0.7},
 "encoding": {
  "x": {"field": "wn", "type": "quantitative", "scale": {"domain": [884, 2760], "nice": false, "zero": false},
   "axis": {"orient": "bottom", "values": [1000, 1500, 2000, 2500], "format": "d", "labelFontSize": 20, "labelColor": "#1a1a1a", "labelPadding": 16, "ticks": true, "tickSize": -9, "tickColor": "#666", "domainColor": "#666", "title": "Wavenumber (cm⁻¹)", "titleFontSize": 30, "titleFontWeight": "normal", "titleColor": "#1a1a1a", "titleX": 532, "titleY": 55, "titleAlign": "center", "titleBaseline": "middle"}},
  "y": {"field": "logR", "type": "quantitative", "scale": {"domain": [-10, 0.44], "nice": false, "zero": false},
   "axis": {"orient": "left", "values": [-10, -8, -6, -4, -2, 0], "labelExpr": "datum.value == 0 ? '10⁰' : datum.value == -2 ? '10⁻²' : datum.value == -4 ? '10⁻⁴' : datum.value == -6 ? '10⁻⁶' : datum.value == -8 ? '10⁻⁸' : '10⁻¹⁰'", "labelColor": "#0000ff", "labelFontSize": 19, "labelPadding": 26, "tickSize": -9, "tickColor": "#0000ff", "domainColor": "#0000ff", "title": "Response", "titleColor": "#0000ff", "titleFontSize": 28, "titleFontWeight": "normal", "titleAngle": 270, "titleX": -71, "titleY": 321, "titleAlign": "center", "titleBaseline": "middle"}},
  "detail": {"field": "seg"}
 }},
{"data": {"name": "hline"},
 "mark": {"type": "rule", "color": "#4a7ebb", "strokeWidth": 2},
 "encoding": {"y": {"field": "level", "type": "quantitative", "scale": {"domain": [-10, 0.44], "nice": false, "zero": false}, "axis": null}}},
{"data": {"name": "rad"},
 "mark": {"type": "line", "color": "#007000", "strokeWidth": 1.6, "opacity": 0.85},
 "encoding": {
  "x": {"field": "wn", "type": "quantitative", "scale": {"domain": [884, 2760], "nice": false, "zero": false}, "axis": null},
  "y": {"field": "rad", "type": "quantitative", "scale": {"domain": [0, 120], "nice": false, "zero": false},
   "axis": {"orient": "right", "values": [0, 20, 40, 60, 80, 100, 120], "labelColor": "#008000", "labelFontSize": 21, "labelPadding": 12, "tickSize": -9, "tickColor": "#008000", "domainColor": "#008000", "title": "Radiance (mW/(m² sr cm⁻¹))", "titleColor": "#008000", "titleFontSize": 31, "titleFontWeight": "normal", "titleAngle": 270, "titleX": 70, "titleY": 309, "titleAlign": "center", "titleBaseline": "middle"}}
 }},
{"data": {"name": "boxes"},
 "mark": {"type": "rect", "fill": "transparent", "stroke": "#f79646", "strokeWidth": 7, "cornerRadius": 3, "strokeJoin": "round"},
 "encoding": {
  "x": {"field": "x1", "type": "quantitative", "scale": {"domain": [884, 2760], "nice": false, "zero": false}, "axis": null},
  "x2": {"field": "x2"},
  "y": {"field": "y1", "type": "quantitative", "scale": {"domain": [0, 120], "nice": false, "zero": false}, "axis": null},
  "y2": {"field": "y2"}
 }},
{"data": {"name": "band"},
 "mark": {"type": "line", "color": "#385d8a", "strokeWidth": 7.5, "strokeJoin": "round", "strokeCap": "round"},
 "encoding": {
  "x": {"field": "x", "type": "quantitative", "scale": {"domain": [884, 2760], "nice": false, "zero": false}, "axis": null},
  "y": {"field": "y", "type": "quantitative", "scale": {"domain": [0, 120], "nice": false, "zero": false}, "axis": null},
  "order": {"field": "o"}
 }},
{"data": {"name": "arrows"},
 "mark": {"type": "line", "color": "#4a7ebb", "strokeWidth": 2},
 "encoding": {
  "x": {"field": "x", "type": "quantitative", "scale": {"domain": [884, 2760], "nice": false, "zero": false}, "axis": null},
  "y": {"field": "y", "type": "quantitative", "scale": {"domain": [0, 120], "nice": false, "zero": false}, "axis": null},
  "detail": {"field": "seg"},
  "order": {"field": "o"}
 }},
{"data": {"name": "mathUpright"},
 "mark": {"type": "text", "font": "Liberation Serif", "fontSize": 44, "align": "left", "baseline": "alphabetic", "color": "#000"},
 "encoding": {
  "x": {"field": "x", "type": "quantitative", "scale": {"domain": [884, 2760], "nice": false, "zero": false}, "axis": null},
  "y": {"field": "y", "type": "quantitative", "scale": {"domain": [0, 120], "nice": false, "zero": false}, "axis": null},
  "text": {"field": "t"}
 }},
{"data": {"name": "mathItalic"},
 "mark": {"type": "text", "font": "Liberation Serif", "fontStyle": "italic", "fontSize": 44, "align": "left", "baseline": "alphabetic", "color": "#000"},
 "encoding": {
  "x": {"field": "x", "type": "quantitative", "scale": {"domain": [884, 2760], "nice": false, "zero": false}, "axis": null},
  "y": {"field": "y", "type": "quantitative", "scale": {"domain": [0, 120], "nice": false, "zero": false}, "axis": null},
  "text": {"field": "t"}
 }},
{"data": {"name": "mathSub"},
 "mark": {"type": "text", "font": "Liberation Serif", "fontStyle": "italic", "fontSize": 28, "align": "left", "baseline": "alphabetic", "color": "#000"},
 "encoding": {
  "x": {"field": "x", "type": "quantitative", "scale": {"domain": [884, 2760], "nice": false, "zero": false}, "axis": null},
  "y": {"field": "y", "type": "quantitative", "scale": {"domain": [0, 120], "nice": false, "zero": false}, "axis": null},
  "text": {"field": "t"}
 }},
{"data": {"name": "regionOut"},
 "mark": {"type": "text", "font": "Lato", "fontSize": 28, "align": "center", "baseline": "alphabetic", "color": "#000"},
 "encoding": {
  "x": {"field": "x", "type": "quantitative", "scale": {"domain": [884, 2760], "nice": false, "zero": false}, "axis": null},
  "y": {"field": "y", "type": "quantitative", "scale": {"domain": [0, 120], "nice": false, "zero": false}, "axis": null},
  "text": {"field": "t"}
 }},
{"data": {"name": "regionIn"},
 "mark": {"type": "text", "font": "Lato", "fontSize": 28, "align": "left", "baseline": "alphabetic", "color": "#000"},
 "encoding": {
  "x": {"field": "x", "type": "quantitative", "scale": {"domain": [884, 2760], "nice": false, "zero": false}, "axis": null},
  "y": {"field": "y", "type": "quantitative", "scale": {"domain": [0, 120], "nice": false, "zero": false}, "axis": null},
  "text": {"field": "t"}
 }}
],
"resolve": {"scale": {"y": "independent"}, "axis": {"x": "independent", "y": "independent"}}
}
